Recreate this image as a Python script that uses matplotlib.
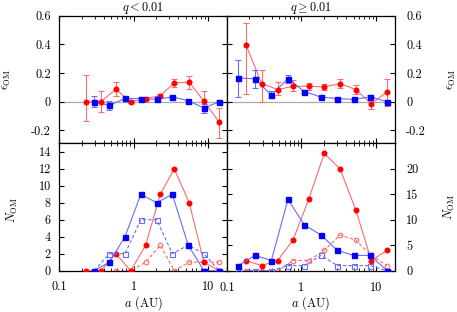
import matplotlib.pyplot as plt
import numpy as np

plt.rcParams['font.family'] = 'cmr10'
plt.rcParams['mathtext.fontset'] = 'cm'
plt.rcParams['axes.unicode_minus'] = False
plt.rcParams['font.size'] = 8.8

# bin centres (AU)
a_lo_red = [0.229, 0.363, 0.573, 0.912, 1.45, 2.28, 3.52, 5.59, 8.81, 14.0]
a_lo_blue = [0.295, 0.47, 0.764, 1.25, 2.04, 3.31, 5.42, 8.81, 14.1]
a_hi_red = [0.18, 0.292, 0.48, 0.77, 1.25, 2.02, 3.29, 5.34, 8.65, 14.1]
a_hi_blue = [0.142, 0.238, 0.394, 0.659, 1.09, 1.83, 3.03, 5.0, 8.4, 14.1]

# eps_OM, q < 0.01 (value, upper bound, lower bound)
eps_lo_red = [0, 0, 0.087, 0.0, 0.022, 0.042, 0.132, 0.136, 0.004, -0.139]
eps_lo_red_hi = [0.184, 0.073, 0.136, 0.01, 0.034, 0.055, 0.155, 0.177, 0.078, -0.042]
eps_lo_red_lo = [-0.134, -0.07, 0.039, -0.01, 0.01, 0.029, 0.104, 0.09, -0.049, -0.25]
eps_lo_blue = [0, -0.026, 0.023, 0.022, 0.016, 0.034, 0.007, -0.044, 0.0]
eps_lo_blue_hi = [0.04, 0.005, 0.033, 0.030, 0.024, 0.042, 0.017, -0.018, 0.012]
eps_lo_blue_lo = [-0.035, -0.058, 0.013, 0.014, 0.008, 0.026, -0.003, -0.076, -0.012]

# eps_OM, q >= 0.01
eps_hi_red = [0.397, 0.127, 0.085, 0.108, 0.108, 0.103, 0.127, 0.085, -0.014, 0.069]
eps_hi_red_hi = [0.547, 0.224, 0.136, 0.15, 0.131, 0.127, 0.155, 0.12, 0.035, 0.155]
eps_hi_red_lo = [0.055, 0.0, 0.044, 0.074, 0.085, 0.08, 0.097, 0.051, -0.053, -0.03]
eps_hi_blue = [0.166, 0.159, 0.046, 0.161, 0.071, 0.032, 0.022, 0.016, 0.034, 0.0]
eps_hi_blue_hi = [0.289, 0.219, 0.074, 0.189, 0.084, 0.040, 0.029, 0.022, 0.05, 0.01]
eps_hi_blue_lo = [0.035, 0.097, 0.023, 0.132, 0.058, 0.024, 0.015, 0.010, 0.016, -0.01]

# N_OM counts
n_lo_red = [0, 0, 2, 0, 3, 9, 12, 8, 1, 0]
n_lo_red_open = [np.nan, np.nan, 0, 0, 1, 3, 0, 1, 1, 1]
n_lo_blue = [0, 1, 4, 9, 8, 9, 3, 0, 0]
n_lo_blue_open = [0, 2, 2, 6, 6, 2, 3, 2, 0]
n_hi_red = [2, 1, 2, 6, 14, 23, 20, 12, 2, 4]
n_hi_red_open = [0, 0, 0, 2, 2, 4, 7, 6, 3, 1]
n_hi_blue = [1, 3, 2, 14, 9, 7, 4, 3, 3, 0]
n_hi_blue_open = [0, 0, 0, 1, 1, 3, 1, 1, 1, 0]

RED, RED_L = '#ff0000', '#ff6a6a'
BLUE, BLUE_L = '#0000ff', '#6a6aff'

fig = plt.figure(figsize=(4.57, 3.12), dpi=100)
x0, xm, x1 = 0.1298, 0.4967, 0.8643
yb, ym, yt = 0.1324, 0.5407, 0.9497
ax_tl = fig.add_axes([x0, ym, xm - x0, yt - ym])
ax_tr = fig.add_axes([xm, ym, x1 - xm, yt - ym])
ax_bl = fig.add_axes([x0, yb, xm - x0, ym - yb])
ax_br = fig.add_axes([xm, yb, x1 - xm, ym - yb])


def eps_series(ax, a, v, hi, lo, col, col_l, marker, ms):
    v = np.array(v)
    yerr = [v - np.array(lo), np.array(hi) - v]
    ax.plot(a, v, '-', color=col_l, lw=0.8, zorder=2)
    ax.errorbar(a, v, yerr=yerr, fmt='none', ecolor=col_l, elinewidth=0.8,
                capsize=2, capthick=0.8, zorder=2)
    ax.plot(a, v, marker, color=col, ms=ms, ls='none', zorder=3)


def n_series(ax, a, v, vo, col, col_l, marker, ms, z):
    ax.plot(a, vo, '--', color=col_l, lw=0.8, marker=marker, ms=ms,
            mfc='none', mec=col_l, mew=0.8, dashes=(3, 2), zorder=z)
    ax.plot(a, v, '-', color=col_l, lw=0.8, zorder=z + 1)
    ax.plot(a, v, marker, color=col, ms=ms, ls='none', zorder=z + 2)


for ax in (ax_tl, ax_tr):
    ax.axhline(0, color='#aaaaaa', lw=0.9, zorder=1)
    ax.set_ylim(-0.29, 0.6)
    ax.set_yticks([-0.2, 0, 0.2, 0.4, 0.6], ['-0.2', '0', '0.2', '0.4', '0.6'])

eps_series(ax_tl, a_lo_red, eps_lo_red, eps_lo_red_hi, eps_lo_red_lo, RED, RED_L, 'o', 3.3)
eps_series(ax_tl, a_lo_blue, eps_lo_blue, eps_lo_blue_hi, eps_lo_blue_lo, BLUE, BLUE_L, 's', 3.6)
eps_series(ax_tr, a_hi_red, eps_hi_red, eps_hi_red_hi, eps_hi_red_lo, RED, RED_L, 'o', 3.3)
eps_series(ax_tr, a_hi_blue, eps_hi_blue, eps_hi_blue_hi, eps_hi_blue_lo, BLUE, BLUE_L, 's', 3.6)

n_series(ax_bl, a_lo_red, n_lo_red, n_lo_red_open, RED, RED_L, 'o', 3.3, 2)
n_series(ax_bl, a_lo_blue, n_lo_blue, n_lo_blue_open, BLUE, BLUE_L, 's', 3.6, 5)
n_series(ax_br, a_hi_red, n_hi_red, n_hi_red_open, RED, RED_L, 'o', 3.3, 2)
n_series(ax_br, a_hi_blue, n_hi_blue, n_hi_blue_open, BLUE, BLUE_L, 's', 3.6, 5)

ax_bl.set_ylim(0, 15)
ax_bl.set_yticks(range(0, 15, 2))
ax_br.set_ylim(0, 25)
ax_br.set_yticks(range(0, 21, 5))

for ax in (ax_tl, ax_tr, ax_bl, ax_br):
    ax.set_xscale('log')
    ax.set_xlim(0.1, 18)
    ax.set_xticks([0.1, 1, 10], ['0.1', '1', '10'])
    ax.xaxis.set_minor_locator(plt.matplotlib.ticker.LogLocator(base=10, subs=np.arange(2, 10)))
    ax.xaxis.set_minor_formatter(plt.NullFormatter())
    ax.tick_params(which='both', direction='in', top=True, bottom=True,
                   left=True, right=True, labelsize=8.8)
    ax.tick_params(axis='x', pad=7)
    ax.tick_params(axis='y', pad=6)
    ax.tick_params(which='major', length=3.5, width=0.8)
    ax.tick_params(which='minor', length=2, width=0.6)
    for s in ax.spines.values():
        s.set_linewidth(0.9)

for ax in (ax_tl, ax_tr):
    ax.tick_params(labelbottom=False)
for ax in (ax_tr, ax_br):
    ax.tick_params(labelleft=False, labelright=True, pad=8)

ax_tl.set_ylabel(r'$\epsilon_{\rm OM}$', va='center')
ax_tl.yaxis.set_label_coords(-0.31, 0.5)
ax_tr.set_ylabel(r'$\epsilon_{\rm OM}$', va='center')
ax_tr.yaxis.set_label_position('right')
ax_tr.yaxis.label.set_rotation(90)
ax_tr.yaxis.set_label_coords(1.30, 0.5)
ax_bl.set_ylabel(r'$N_{\rm OM}$', va='center')
ax_bl.yaxis.set_label_coords(-0.28, 0.48)
ax_br.set_ylabel(r'$N_{\rm OM}$', va='center')
ax_br.yaxis.set_label_position('right')
ax_br.yaxis.label.set_rotation(90)
ax_br.yaxis.set_label_coords(1.28, 0.5)

for ax in (ax_bl, ax_br):
    ax.set_xlabel(r'$a$ (AU)', va='center')
    ax.xaxis.set_label_coords(0.5, -0.255)

ax_tl.text(0.5, 1.063, r'$q < 0.01$', transform=ax_tl.transAxes, ha='center', va='center')
ax_tr.text(0.5, 1.063, r'$q \geq 0.01$', transform=ax_tr.transAxes, ha='center', va='center')

fig.savefig('out.png', dpi=100)
